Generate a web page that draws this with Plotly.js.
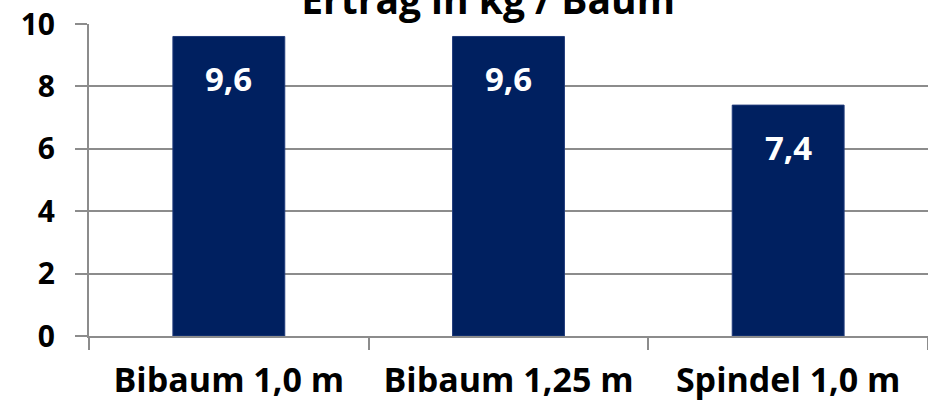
<!DOCTYPE html>
<html><head><meta charset="utf-8">
<script src="https://cdn.plot.ly/plotly-3.0.1.min.js"></script>
<style>html,body{margin:0;padding:0;background:#fff;}#c{width:928px;height:408px;}</style>
</head><body><div id="c"></div>
<script>
var categories = ["Bibaum 1,0 m", "Bibaum 1,25 m", "Spindel 1,0 m"];
var values = [9.6, 9.6, 7.4];
var valueLabels = ["9,6", "9,6", "7,4"];
var yTicks = [0, 2, 4, 6, 8, 10];
var titleText = "Ertrag in kg / Baum";

var font = "'Open Sans', sans-serif";
var trace = {
  type: "bar", x: categories, y: values,
  marker: {color: "#002060", line: {color: "#1f3a7a", width: 1}},
  hoverinfo: "none"
};
var annotations = categories.map(function(c, i){
  return {x: c, y: values[i], xref: "x", yref: "y", text: valueLabels[i],
    showarrow: false, yanchor: "middle", yshift: -42,
    font: {family: font, size: 33, color: "#ffffff", weight: "bold"}};
});
var layout = {
  width: 928, height: 408,
  margin: {l: 89, r: 0, t: 24, b: 72},
  paper_bgcolor: "#fff", plot_bgcolor: "#fff",
  bargap: 0.6, showlegend: false,
  title: {text: titleText, x: 0.526, xanchor: "center", y: 1.0, yref: "container", yanchor: "middle",
    font: {family: font, size: 39, color: "#000", weight: "bold"}},
  xaxis: {type: "category", showline: true, linecolor: "#8c8c8c", linewidth: 2,
    ticks: "outside", ticklen: 12, tickcolor: "#8c8c8c", tickwidth: 2, tickson: "boundaries",
    tickfont: {family: font, size: 34, color: "#000", weight: "bold"}, ticklabelstandoff: 13, showgrid: false, fixedrange: true},
  yaxis: {range: [0, 10], tickvals: yTicks, ticktext: yTicks.map(String), showline: true, linecolor: "#8c8c8c", linewidth: 2,
    ticks: "outside", ticklen: 12, tickcolor: "#8c8c8c", tickwidth: 2,
    showgrid: true, gridcolor: "#8c8c8c", gridwidth: 2, zeroline: false,
    tickfont: {family: font, size: 30, color: "#000", weight: "bold"}, ticklabelstandoff: 14, fixedrange: true},
  annotations: annotations
};
Plotly.newPlot("c", [trace], layout, {displayModeBar: false, staticPlot: true});
</script></body></html>
